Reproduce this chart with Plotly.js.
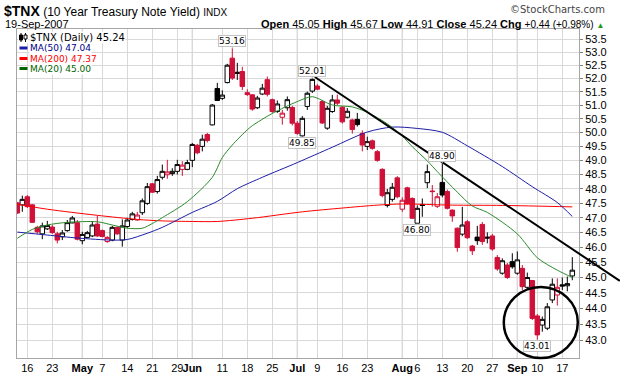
<!DOCTYPE html>
<html><head><meta charset="utf-8">
<script src="https://cdn.plot.ly/plotly-3.0.1.min.js"></script>
<style>html,body{margin:0;padding:0;background:#fff;}#chart{width:620px;height:376px;}</style>
</head><body><div id="chart"></div>
<script>
// trading-day index: -2 = 12-Apr-2007 ... 109 = 19-Sep-2007
const firstIndex = -2;
const openP = [47.51,47.44,47.72,47.44,46.67,46.45,46.62,46.68,46.45,46.35,46.56,46.82,46.83,46.22,46.33,46.38,46.78,46.56,46.19,46.24,46.67,46.24,46.70,46.94,46.92,47.17,47.49,48.17,47.90,48.40,48.49,48.53,48.61,48.68,48.68,49.00,49.54,49.50,49.93,50.28,51.63,51.26,51.85,52.78,52.24,52.27,51.47,51.39,50.91,51.42,51.96,51.21,50.77,50.56,50.91,50.92,50.34,49.88,50.96,51.53,51.72,51.14,50.16,50.77,51.20,50.93,50.56,50.46,50.48,49.97,49.50,49.70,49.31,48.68,47.42,47.63,48.38,47.29,48.03,47.66,46.81,47.45,48.21,47.92,47.39,48.22,47.90,47.26,46.64,46.44,46.86,46.04,46.34,46.77,46.34,46.38,45.66,45.14,45.41,45.52,45.14,45.30,44.68,44.90,43.76,43.47,43.37,44.27,44.43,44.76,44.73,45.05];
const highP = [47.54,47.76,47.78,47.46,46.72,46.83,46.89,46.75,46.52,46.58,46.92,47.06,46.92,46.52,46.55,46.86,47.06,46.60,46.37,46.72,46.70,46.94,47.00,47.20,47.20,47.66,48.20,48.20,48.45,48.85,49.02,48.72,49.02,48.97,49.02,49.62,49.59,49.92,49.99,51.05,51.84,51.56,52.56,53.16,52.60,52.45,51.60,51.42,51.35,51.80,52.08,51.25,51.18,50.83,51.33,50.98,50.42,50.60,51.51,52.01,51.80,51.20,50.98,51.39,51.40,50.97,50.90,50.50,50.72,50.08,49.85,49.75,49.37,48.72,47.99,48.20,48.44,47.70,48.07,47.70,47.42,47.66,48.85,48.13,47.85,48.90,47.97,47.28,46.67,47.37,46.92,46.08,46.72,46.85,46.50,46.45,45.74,45.63,45.48,45.80,45.86,45.41,45.16,44.92,43.82,43.74,44.17,44.97,44.97,45.00,45.03,45.67];
const lowP = [47.13,47.20,47.33,46.82,46.45,46.27,46.58,46.45,46.13,46.24,46.52,46.81,46.23,46.10,46.32,46.34,46.34,46.33,46.15,46.20,46.42,46.02,46.65,46.90,46.90,47.09,47.44,47.85,47.83,48.32,48.35,48.45,48.50,48.45,48.65,48.76,49.22,49.32,49.64,50.26,51.16,51.20,51.82,51.95,51.95,51.57,51.35,50.80,50.86,51.38,51.33,50.72,50.72,50.29,50.80,50.26,49.92,49.85,50.83,51.46,51.57,50.31,50.10,50.72,51.00,50.33,50.52,49.96,50.22,49.32,49.37,49.38,48.95,47.70,47.35,47.55,47.67,47.20,47.44,46.96,46.80,47.03,48.02,47.38,47.33,47.70,47.28,46.86,45.85,46.37,46.28,45.74,46.08,46.08,46.13,45.88,45.22,45.09,44.95,45.29,45.09,44.59,44.59,43.63,43.01,43.26,43.31,44.17,44.09,44.59,44.55,44.91];
const closeP = [47.16,47.63,47.38,46.84,46.52,46.72,46.73,46.49,46.24,46.48,46.83,46.99,46.27,46.43,46.49,46.75,46.38,46.36,46.33,46.67,46.45,46.72,46.92,47.13,47.09,47.58,48.07,47.88,48.32,48.61,48.59,48.61,48.85,48.83,48.92,49.57,49.27,49.76,49.71,51.01,51.18,51.38,52.51,52.02,52.20,51.70,51.40,50.86,51.27,51.64,51.41,50.77,51.05,50.71,51.21,50.34,49.97,50.52,51.45,51.97,51.60,50.35,50.89,51.20,51.08,50.39,50.78,50.11,50.29,49.55,49.67,49.43,49.00,47.76,47.86,48.05,47.72,47.60,47.48,46.98,47.32,47.42,48.60,47.90,47.72,47.78,47.32,47.06,45.99,46.75,46.32,45.88,46.22,46.19,46.31,45.94,45.28,45.55,45.00,45.35,45.58,44.70,45.00,43.68,43.16,43.65,44.05,44.78,44.68,44.72,44.80,45.24];

// moving averages (index, value)
const ma50Idx = [-2,4,10,17,20,24,27,33,38,42,47,54,61,68,73,78,83,88,95,101,106,109];
const ma50Val = [46.51,46.41,46.31,46.24,46.26,46.47,46.67,47.18,47.56,48.00,48.40,48.92,49.47,50.02,50.20,50.15,50.01,49.52,48.78,48.07,47.52,47.04];
const ma200Idx = [-2,4,14,22,27,33,38,45,55,63,70,75,85,95,109];
const ma200Val = [47.46,47.29,47.08,46.94,46.89,46.87,46.87,46.98,47.20,47.33,47.43,47.47,47.43,47.42,47.37];
const ma20Idx = [-2,1,4,8,14,17,20,23,25,27,32,37,39,41,44,45,49,54,57,61,65,68,72,75,77,80,82,86,89,92,98,102,106,109];
const ma20Val = [46.30,46.60,46.75,46.84,46.86,46.75,46.64,46.64,46.80,47.00,47.55,48.40,49.10,49.55,50.10,50.25,50.70,51.14,51.32,51.01,50.94,50.74,50.32,49.87,49.49,48.98,48.60,47.88,47.40,47.18,46.45,45.65,45.24,45.00];

const tickIdx = [0,5,11,15,20,25,30,33,39,44,49,54,58,63,68,75,78,83,88,93,98,102,107];
const tickText = ['16','23','May','7','14','21','29','Jun','11','18','25','Jul','9','16','23','Aug','6','13','20','27','Sep','10','17'];
const monthNames = ['May','Jun','Jul','Aug','Sep'];
const yTicks = [43.0,43.5,44.0,44.5,45.0,45.5,46.0,46.5,47.0,47.5,48.0,48.5,49.0,49.5,50.0,50.5,51.0,51.5,52.0,52.5,53.0,53.5];

const peakIdx = [41,57,55,83,78,102];
const peakVal = [53.16,52.01,49.85,48.90,46.80,43.01];
const peakSide = ['above','above','below','above','below','below'];

const trendIdx = [57.5,118.5];
const trendVal = [52.06,44.89];
const circleIdx = [95.3,110.1];
const circleVal = [42.44,44.69];

const RED = '#cf1139';
const FONT = 'Liberation Sans, Arial, sans-serif';
const VFONT = 'DejaVu Sans, Verdana, sans-serif';

const L=17, R=579, T=29, B=358;
const xRange = [-2.06, 110.34];
const yRange = [1.627786, 1.731670];
const px2x = p => (p - L) / (R - L);
const py2y = p => (B - p) / (B - T);
const d2x = i => (i - xRange[0]) / (xRange[1] - xRange[0]);
const d2y = v => (Math.log10(v) - yRange[0]) / (yRange[1] - yRange[0]);

const xs = openP.map((_, k) => k + firstIndex);
const upDay = closeP.map((c, k) => k === 0 ? c >= openP[k] : c >= closeP[k-1]);
function pick(arr, flag) { return arr.filter((_, k) => upDay[k] === flag); }

function candle(flag, col) {
  return {
    type: 'candlestick', x: pick(xs, flag), open: pick(openP, flag), high: pick(highP, flag),
    low: pick(lowP, flag), close: pick(closeP, flag), hoverinfo: 'skip', showlegend: false,
    whiskerwidth: 0,
    increasing: {line: {color: col, width: 1}, fillcolor: '#ffffff'},
    decreasing: {line: {color: col, width: 1}, fillcolor: col}
  };
}
function maLine(xv, yv, col) {
  return {type: 'scatter', mode: 'lines', x: xv, y: yv, hoverinfo: 'skip', showlegend: false,
    line: {color: col, width: 1, shape: 'spline', smoothing: 0.8}};
}

const traces = [
  maLine(ma200Idx, ma200Val, '#ff0000'),
  maLine(ma50Idx, ma50Val, '#1c1ca8'),
  maLine(ma20Idx, ma20Val, '#2b8a2b'),
  candle(true, '#000000'),
  candle(false, RED)
];

const n = closeP.length;
const lastC = closeP[n-1], prevC = closeP[n-2];
const chg = lastC - prevC, pct = chg / prevC * 100;

const ann = [];
function txt(text, px, py, xanchor, size, fam, color) {
  ann.push({xref: 'paper', yref: 'paper', x: px2x(px), y: py2y(py), text: text, showarrow: false,
    xanchor: xanchor, yanchor: 'middle', font: {family: fam || FONT, size: size, color: color || '#000'}});
}
txt('<b>$TNX</b><span style="font-size:12px"> (10 Year Treasury Note Yield) </span><span style="font-size:10px">INDX</span>', 2, 10.5, 'left', 14);
txt('©StockCharts.com', 607, 10, 'right', 10, VFONT, '#444');
txt('<b>Open</b> ' + openP[n-1].toFixed(2) + ' <b>High</b> ' + highP[n-1].toFixed(2) + ' <b>Low</b> ' + lowP[n-1].toFixed(2) +
    ' <b>Close</b> ' + lastC.toFixed(2) + ' <b>Chg</b> <span style="font-size:10px">' + (chg >= 0 ? '+' : '') + chg.toFixed(2) +
    ' (' + (pct >= 0 ? '+' : '') + pct.toFixed(2) + '%)</span> <span style="color:#1e9a1e;font-size:8px">▲</span>', 606, 24, 'right', 11);

// legend rows
const legRows = [
  {text: '$TNX (Daily) ' + lastC.toFixed(2), color: '#000', y: 37.5, size: 10},
  {text: 'MA(50) ' + ma50Val[ma50Val.length-1].toFixed(2), color: '#00008b', y: 48, size: 9, line: '#1c1ca8'},
  {text: 'MA(200) ' + ma200Val[ma200Val.length-1].toFixed(2), color: '#ff0000', y: 58.5, size: 9, line: '#ff0000'},
  {text: 'MA(20) ' + ma20Val[ma20Val.length-1].toFixed(2), color: '#006400', y: 68.5, size: 9, line: '#006400'}
];
const shapes = [];
legRows.forEach(r => {
  ann.push({xref: 'paper', yref: 'paper', x: px2x(29), y: py2y(r.y), text: r.text, showarrow: false,
    xanchor: 'left', yanchor: 'middle', bgcolor: '#ffffff', borderpad: 0,
    font: {family: VFONT, size: r.size, color: r.color}});
  if (r.line) shapes.push({type: 'line', xref: 'paper', yref: 'paper', x0: px2x(19.5), x1: px2x(27.5),
    y0: py2y(r.y), y1: py2y(r.y), line: {color: r.line, width: 3}});
});
txt('19-Sep-2007', 3, 24, 'left', 11);
// small candle icon
shapes.push({type: 'rect', xref: 'paper', yref: 'paper', x0: px2x(18), x1: px2x(28), y0: py2y(43), y1: py2y(31), fillcolor: '#fff', line: {width: 0}});
shapes.push({type: 'line', xref: 'paper', yref: 'paper', x0: px2x(21), x1: px2x(21), y0: py2y(33), y1: py2y(42), line: {color: '#000', width: 1}});
shapes.push({type: 'rect', xref: 'paper', yref: 'paper', x0: px2x(19.5), x1: px2x(22.5), y0: py2y(35), y1: py2y(40), fillcolor: '#000', line: {color: '#000', width: 1}});
shapes.push({type: 'line', xref: 'paper', yref: 'paper', x0: px2x(25.5), x1: px2x(25.5), y0: py2y(33), y1: py2y(42), line: {color: '#000', width: 1}});
shapes.push({type: 'rect', xref: 'paper', yref: 'paper', x0: px2x(24), x1: px2x(27), y0: py2y(35), y1: py2y(39), fillcolor: '#fff', line: {color: '#000', width: 1}});

// darker month gridlines
tickIdx.forEach((t, k) => {
  if (monthNames.indexOf(tickText[k]) >= 0)
    shapes.push({type: 'line', xref: 'x', yref: 'paper', x0: t, x1: t, y0: 0, y1: 1, layer: 'between', line: {color: '#b0b0b0', width: 1}});
});
// trendline and circle
shapes.push({type: 'line', xref: 'paper', yref: 'paper', x0: d2x(trendIdx[0]), y0: d2y(trendVal[0]),
  x1: d2x(trendIdx[1]), y1: d2y(trendVal[1]), line: {color: '#000', width: 2}});
shapes.push({type: 'circle', xref: 'paper', yref: 'paper', x0: d2x(circleIdx[0]), x1: d2x(circleIdx[1]),
  y0: d2y(circleVal[0]), y1: d2y(circleVal[1]), line: {color: '#000', width: 2.5}});

// price labels
peakIdx.forEach((p, k) => {
  ann.push({xref: 'x', yref: 'y', x: p, y: Math.log10(peakVal[k]), text: peakVal[k].toFixed(2),
    showarrow: true, arrowhead: 0, arrowwidth: 1, arrowcolor: '#b8b8b8', standoff: 0,
    ax: 0, ay: peakSide[k] === 'above' ? -7 : 6, bgcolor: '#ffffff', bordercolor: '#c4c4c4',
    borderwidth: 1, borderpad: 0, font: {family: VFONT, size: 9, color: '#000'}});
});

const layout = {
  width: 620, height: 376, paper_bgcolor: '#fff', plot_bgcolor: '#fff',
  margin: {l: L, r: 620 - R, t: T, b: 376 - B},
  showlegend: false, boxgap: 0.1, boxgroupgap: 0, boxmode: 'overlay',
  xaxis: {type: 'linear', range: xRange, tickmode: 'array', tickvals: tickIdx,
    ticktext: tickText.map(t => monthNames.indexOf(t) >= 0 ? '<b>' + t + '</b>' : t),
    tickangle: 0, showgrid: true, gridcolor: '#d9d9d9', gridwidth: 1, zeroline: false,
    showline: true, mirror: true, linecolor: '#a6a6a6', linewidth: 1, ticks: '',
    tickfont: {family: FONT, size: 11, color: '#000'}, rangeslider: {visible: false}, fixedrange: true},
  yaxis: {type: 'log', range: yRange, side: 'right', tickmode: 'array', tickvals: yTicks,
    ticktext: yTicks.map(v => v.toFixed(1)), showgrid: true, gridcolor: '#d9d9d9', gridwidth: 1,
    zeroline: false, showline: true, mirror: true, linecolor: '#a6a6a6', linewidth: 1,
    ticks: 'outside', ticklen: 3, tickcolor: '#808080',
    tickfont: {family: FONT, size: 11, color: '#000'}, fixedrange: true},
  annotations: ann, shapes: shapes
};
Plotly.newPlot('chart', traces, layout, {staticPlot: true, displayModeBar: false});
</script></body></html>
